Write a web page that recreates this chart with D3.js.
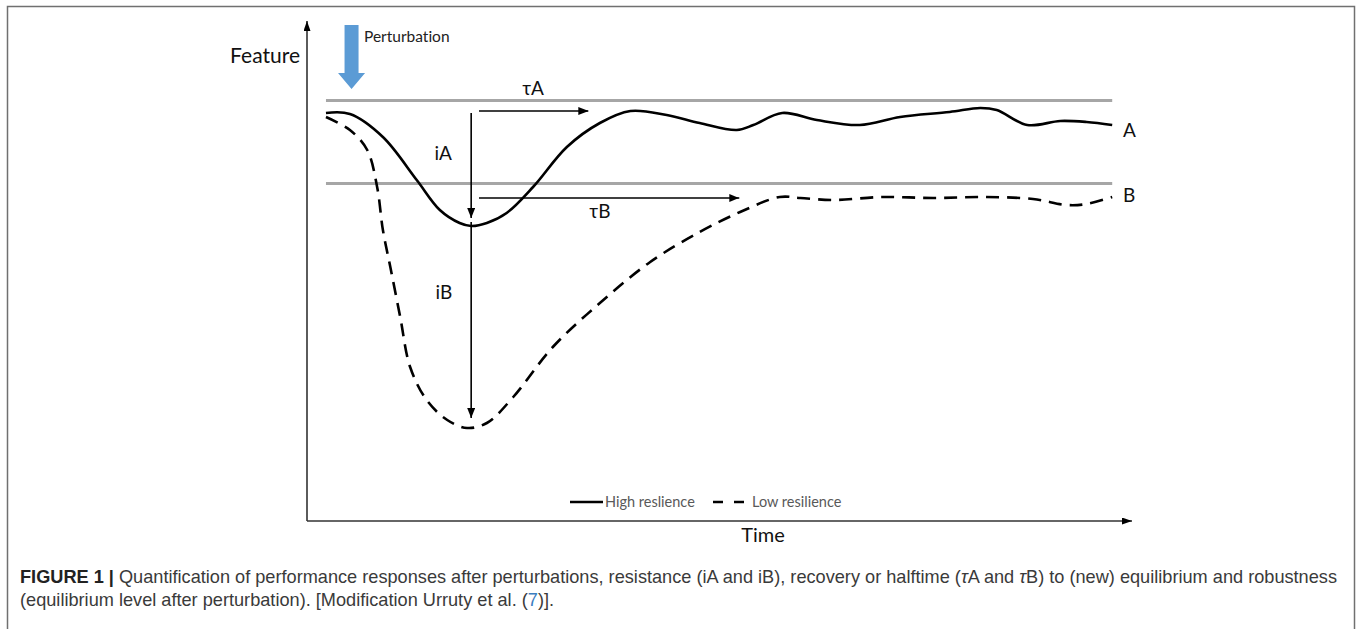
<!DOCTYPE html>
<html>
<head>
<meta charset="utf-8">
<script src="https://cdn.jsdelivr.net/npm/d3@7"></script>
<style>
  body { margin: 0; background: #fff; }
  svg { display: block; }
  text { font-variant-ligatures: none; }
</style>
</head>
<body>
<svg id="chart" width="1357" height="629"></svg>
<script>
// time (arbitrary units 0-100) and feature level (0-100)
const timeA = [2.3, 5.2, 9.2, 13.3, 16.1, 18.5, 19.9, 21.8, 24.2, 27.4, 31.5, 35.5, 39.2, 43.6, 47.6, 52.1, 54.1, 57.6, 61.8, 67.0, 71.9, 77.9, 81.6, 83.6, 87.3, 91.3, 94.5, 97.6]
const featureA = [81.6, 81.4, 76.8, 68.2, 62.2, 59.6, 59.0, 59.6, 61.6, 66.8, 74.8, 79.6, 82.0, 81.2, 79.6, 78.2, 79.2, 81.6, 80.2, 79.2, 80.8, 81.8, 82.6, 82.2, 79.2, 80.0, 79.8, 79.2]

const timeB = [2.3, 5.2, 7.3, 8.5, 9.2, 10.1, 11.3, 12.5, 14.5, 17.0, 19.4, 21.8, 25.0, 29.8, 35.5, 41.6, 47.6, 52.5, 57.3, 59.8, 63.8, 69.8, 75.9, 81.9, 88.0, 92.1, 94.5, 97.6]
const featureB = [80.8, 78.2, 74.2, 66.8, 58.2, 50.8, 40.8, 30.8, 24.2, 20.2, 18.6, 19.6, 24.8, 34.8, 43.6, 51.8, 57.8, 61.8, 64.8, 64.6, 64.2, 64.8, 64.6, 64.8, 64.4, 63.2, 63.4, 64.8]

// equilibrium levels (grey lines) and their time span
const levelNames = ['A', 'B']
const levels = [84.1, 67.5]
const levelSpan = [2.3, 97.6]

// resistance (i) and recovery (tau) arrows
const perturbTime = 5.4
const minTime = 19.9
const iA = [81.6, 60.6]
const iB = [59.8, 20.6]
const tauStart = 20.85
const tauA = { level: 82.0, end: 34.1 }
const tauB = { level: 64.6, end: 52.4 }

const legendLabels = ['High reslience', 'Low resilience']

const svg = d3.select('#chart')
const textFont = 'Lato, "Open Sans", sans-serif'

const xScale = d3.scaleLinear().domain([0, 100]).range([307, 1132])
const yScale = d3.scaleLinear().domain([0, 100]).range([521, 21])

// figure frame
svg.append('rect')
  .attr('x', 7.5).attr('y', 6.5)
  .attr('width', 1347).attr('height', 700)
  .attr('fill', 'none')
  .attr('stroke', '#707070')
  .attr('stroke-width', 1.5)

const defs = svg.append('defs')
const marker = (id, w, h) => {
  defs.append('marker')
    .attr('id', id)
    .attr('viewBox', `0 0 ${w} ${h}`)
    .attr('refX', w).attr('refY', h / 2)
    .attr('markerWidth', w).attr('markerHeight', h)
    .attr('markerUnits', 'userSpaceOnUse')
    .attr('orient', 'auto')
    .append('path')
    .attr('d', `M0,0 L${w},${h / 2} L0,${h} Z`)
    .attr('fill', '#000')
}
marker('head', 10, 8)
marker('axhead', 10, 7)

// axes
svg.append('line')
  .attr('x1', xScale(0)).attr('y1', yScale(0))
  .attr('x2', xScale(0)).attr('y2', yScale(100))
  .attr('stroke', '#333').attr('stroke-width', 1.6)
  .attr('marker-end', 'url(#axhead)')
svg.append('line')
  .attr('x1', xScale(0)).attr('y1', yScale(0))
  .attr('x2', xScale(100)).attr('y2', yScale(0))
  .attr('stroke', '#333').attr('stroke-width', 1.6)
  .attr('marker-end', 'url(#axhead)')

// equilibrium levels
svg.selectAll('line.level')
  .data(levels)
  .enter()
  .append('line')
  .attr('class', 'level')
  .attr('x1', xScale(levelSpan[0])).attr('x2', xScale(levelSpan[1]))
  .attr('y1', d => yScale(d)).attr('y2', d => yScale(d))
  .attr('stroke', '#a6a6a6')
  .attr('stroke-width', 3)

// curves
const line = d3.line()
  .x(d => xScale(d[0]))
  .y(d => yScale(d[1]))
  .curve(d3.curveCatmullRom.alpha(0.5))

svg.append('path')
  .datum(d3.zip(timeA, featureA))
  .attr('d', line)
  .attr('fill', 'none')
  .attr('stroke', '#000')
  .attr('stroke-width', 2.6)

svg.append('path')
  .datum(d3.zip(timeB, featureB))
  .attr('d', line)
  .attr('fill', 'none')
  .attr('stroke', '#000')
  .attr('stroke-width', 2.6)
  .attr('stroke-dasharray', '13 8')

// arrows
const arrows = [
  [minTime, iA[0], minTime, iA[1]],
  [minTime, iB[0], minTime, iB[1]],
  [tauStart, tauA.level, tauA.end, tauA.level],
  [tauStart, tauB.level, tauB.end, tauB.level]
]
svg.selectAll('line.arrow')
  .data(arrows)
  .enter()
  .append('line')
  .attr('class', 'arrow')
  .attr('x1', d => xScale(d[0])).attr('y1', d => yScale(d[1]))
  .attr('x2', d => xScale(d[2])).attr('y2', d => yScale(d[3]))
  .attr('stroke', '#000')
  .attr('stroke-width', 1.6)
  .attr('marker-end', 'url(#head)')

// arrow labels
const labels = [
  { t: 'τA', x: 27.4, y: 85.2 },
  { t: 'iA', x: 16.5, y: 72.2 },
  { t: 'τB', x: 35.5, y: 60.6 },
  { t: 'iB', x: 16.6, y: 44.4 }
]
svg.selectAll('text.lab')
  .data(labels)
  .enter()
  .append('text')
  .attr('class', 'lab')
  .attr('x', d => xScale(d.x)).attr('y', d => yScale(d.y))
  .attr('text-anchor', 'middle')
  .style('font-family', textFont)
  .style('font-size', '19px')
  .attr('fill', '#111')
  .text(d => d.t)

// series names at line ends
svg.selectAll('text.name')
  .data(levelNames)
  .enter()
  .append('text')
  .attr('class', 'name')
  .attr('x', xScale(98.9))
  .attr('y', (d, i) => yScale([76.8, 63.8][i]))
  .style('font-family', textFont)
  .style('font-size', '19px')
  .attr('fill', '#111')
  .text(d => d)

// perturbation block arrow
const px = xScale(perturbTime)
svg.append('path')
  .attr('d', `M${px - 7},25 L${px + 7},25 L${px + 7},73 L${px + 13.5},73 L${px},89 L${px - 13.5},73 L${px - 7},73 Z`)
  .attr('fill', '#5b9bd5')
svg.append('text')
  .attr('x', 364).attr('y', 42)
  .style('font-family', textFont)
  .style('font-size', '15.5px')
  .attr('fill', '#222')
  .text('Perturbation')

// axis titles
svg.append('text')
  .attr('x', 300).attr('y', 63)
  .attr('text-anchor', 'end')
  .style('font-family', textFont)
  .style('font-size', '21px')
  .attr('fill', '#111')
  .text('Feature')
svg.append('text')
  .attr('x', 763).attr('y', 542)
  .attr('text-anchor', 'middle')
  .style('font-family', textFont)
  .style('font-size', '20px')
  .attr('fill', '#111')
  .text('Time')

// legend
const legend = svg.append('g')
legend.append('line')
  .attr('x1', 570).attr('x2', 603).attr('y1', 502).attr('y2', 502)
  .attr('stroke', '#000').attr('stroke-width', 2.6)
legend.append('line')
  .attr('x1', 713).attr('x2', 745).attr('y1', 502).attr('y2', 502)
  .attr('stroke', '#000').attr('stroke-width', 2.6)
  .attr('stroke-dasharray', '10 11')
legend.selectAll('text')
  .data(legendLabels)
  .enter()
  .append('text')
  .attr('x', (d, i) => [605, 752][i])
  .attr('y', 506.5)
  .style('font-family', textFont)
  .style('font-size', '14.5px')
  .attr('fill', '#595959')
  .text(d => d)

// caption
const capFont = '"Liberation Sans", Arial, sans-serif'
const cap1 = svg.append('text')
  .attr('x', 0).attr('y', 0)
  .style('font-family', capFont)
  .style('font-size', '17.5px')
  .attr('fill', '#3a3a3a')
cap1.append('tspan').attr('font-weight', 'bold').attr('fill', '#222').text('FIGURE 1 | ')
cap1.append('tspan').text('Quantification of performance responses after perturbations, resistance (iA and iB), recovery or halftime (')
cap1.append('tspan').attr('font-style', 'italic').text('τ')
cap1.append('tspan').text('A and ')
cap1.append('tspan').attr('font-style', 'italic').text('τ')
cap1.append('tspan').text('B) to (new) equilibrium and robustness')

const cap2 = svg.append('text')
  .attr('x', 0).attr('y', 0)
  .style('font-family', capFont)
  .style('font-size', '17.5px')
  .attr('fill', '#3a3a3a')
cap2.append('tspan').text('(equilibrium level after perturbation). [Modification Urruty et al. (')
cap2.append('tspan').attr('fill', '#3a7dbf').text('7')
cap2.append('tspan').text(')].')

const kx = 1318 / cap1.node().getComputedTextLength()
cap1.attr('transform', `translate(20,583) scale(${kx},1)`)
cap2.attr('transform', `translate(20,606) scale(${kx},1)`)
</script>
</body>
</html>
